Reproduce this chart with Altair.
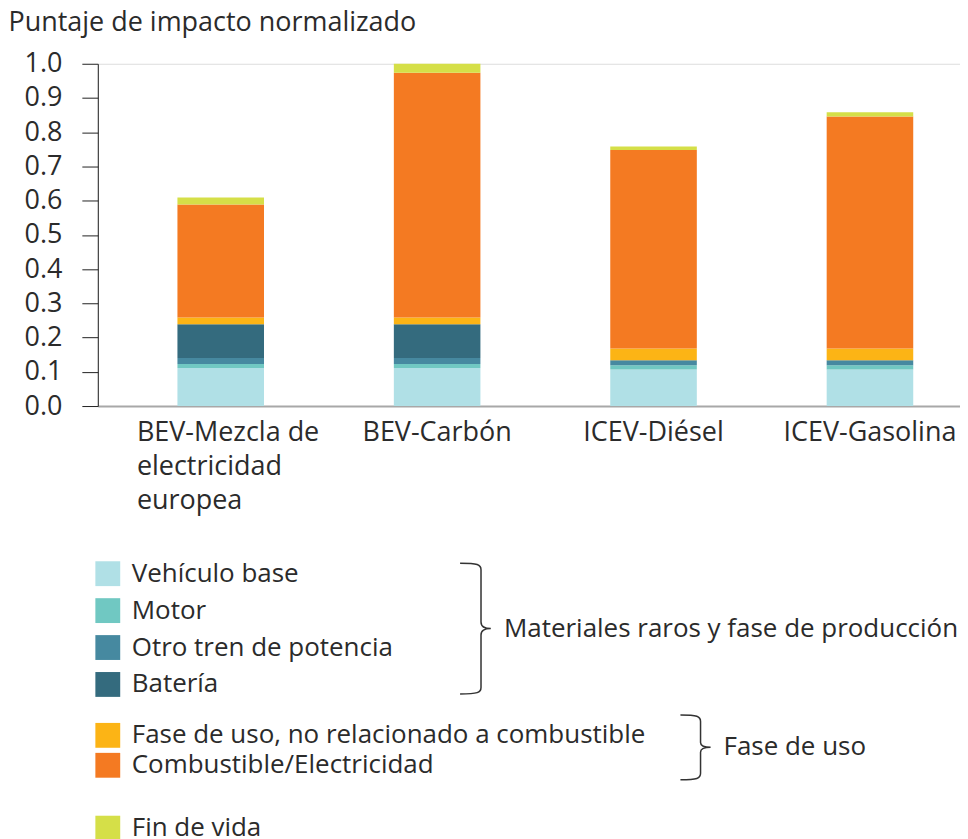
import altair as alt
import pandas as pd

# ---- data ----
vehiculos = ["BEV-Mezcla de electricidad europea", "BEV-Carbón", "ICEV-Diésel", "ICEV-Gasolina"]
componentes = ["Vehículo base", "Motor", "Otro tren de potencia", "Batería",
               "Fase de uso, no relacionado a combustible", "Combustible/Electricidad",
               "Fin de vida"]
vehiculo_base = [0.111, 0.111, 0.107, 0.107]
motor = [0.012, 0.012, 0.012, 0.012]
otro_tren = [0.017, 0.017, 0.015, 0.015]
bateria = [0.099, 0.099, 0.0, 0.0]
uso_no_comb = [0.020, 0.020, 0.034, 0.034]
combustible = [0.330, 0.715, 0.580, 0.678]
fin_de_vida = [0.020, 0.026, 0.010, 0.012]
colores = ["#b0e0e6", "#70c8c2", "#4689a0", "#346b7e", "#fcb415", "#f47a22", "#d5df48"]
grupos = ["Materiales raros y fase de producción", "Fase de uso"]
y_ticks = [0.0, 0.1, 0.2, 0.3, 0.4, 0.5, 0.6, 0.7, 0.8, 0.9, 1.0]
titulo_y = "Puntaje de impacto normalizado"

series = [vehiculo_base, motor, otro_tren, bateria, uso_no_comb, combustible, fin_de_vida]
rows = []
for ci, (comp, vals) in enumerate(zip(componentes, series)):
    for v, val in zip(vehiculos, vals):
        rows.append({"vehiculo": v, "componente": comp, "orden": ci, "valor": val})
df = pd.DataFrame(rows)

FONT = "Open Sans"
TXT = "#2b2b2b"

first = vehiculos[0]
x_enc = alt.X(
    "vehiculo:N", sort=vehiculos, title=None,
    scale=alt.Scale(paddingInner=0.6, paddingOuter=0.292, align=0.63),
    axis=alt.Axis(
        labelAngle=0, ticks=False, domainColor="#a8a8a8", domainWidth=2,
        labelFontSize=27, labelFont=FONT, labelColor=TXT, labelPadding=14,
        labelLineHeight=34, labelLimit=400,
        labelExpr="datum.value == '" + first + "' ? ['BEV-Mezcla de', 'electricidad', 'europea'] : datum.label",
        labelAlign={"condition": {"test": "datum.value == '" + first + "'", "value": "left"}, "value": "center"},
        labelOffset={"condition": {"test": "datum.value == '" + first + "'", "value": -84}, "value": 0},
    ),
)
y_enc = alt.Y(
    "y0:Q", scale=alt.Scale(domain=[0, 1], nice=False),
    axis=alt.Axis(
        values=y_ticks, format=".1f", grid=False, domainColor="#222", tickColor="#222",
        tickSize=16, labelFontSize=27, labelFont=FONT, labelColor=TXT, labelPadding=20,
        title=titulo_y, titleAngle=0, titleAlign="left", titleBaseline="alphabetic",
        titleX=-90, titleY=-33, titleFontSize=27, titleFontWeight="normal",
        titleFont=FONT, titleColor=TXT,
    ),
)

base = alt.Chart(df).transform_stack(
    stack="valor", groupby=["vehiculo"], sort=[alt.SortField("orden")], as_=["y0", "y1"]
)


def capa(dom, rng, ly, row_pad):
    return base.transform_filter(
        alt.FieldOneOfPredicate(field="componente", oneOf=dom)
    ).mark_bar().encode(
        x=x_enc, y=y_enc, y2="y1:Q",
        color=alt.Color(
            "componente:N",
            scale=alt.Scale(domain=dom, range=rng),
            legend=alt.Legend(
                title=None, orient="none", legendX=-3, legendY=ly, padding=0,
                symbolType="square", symbolSize=620, symbolStrokeWidth=0,
                labelFontSize=26, labelFont=FONT, labelColor=TXT, labelOffset=11,
                labelLimit=900, rowPadding=row_pad,
            ),
        ),
    )


l1 = capa(componentes[0:4], colores[0:4], 498, 11)
l2 = capa(componentes[4:6], colores[4:6], 660, 4)
l3 = capa(componentes[6:7], colores[6:7], 753, 4)

one = pd.DataFrame({"k": [0]})
brace1_path = ("M -0.32 -1 C -0.05 -1 0 -0.98 0 -0.9 L 0 -0.1 C 0 -0.03 0.05 0 0.15 0 "
               "C 0.05 0 0 0.03 0 0.1 L 0 0.9 C 0 0.98 -0.05 1 -0.32 1")
brace2_path = ("M -0.62 -1 C -0.1 -1 0 -0.96 0 -0.8 L 0 -0.15 C 0 -0.05 0.1 0 0.31 0 "
               "C 0.1 0 0 0.05 0 0.15 L 0 0.8 C 0 0.96 -0.1 1 -0.62 1")

b1 = alt.Chart(one).mark_point(
    shape=brace1_path, filled=False, size=131 ** 2, stroke="#333", strokeWidth=1.5, opacity=1
).encode(x=alt.value(384), y=alt.value(566))
b2 = alt.Chart(one).mark_point(
    shape=brace2_path, filled=False, size=65 ** 2, stroke="#333", strokeWidth=1.5, opacity=1
).encode(x=alt.value(604), y=alt.value(685))

t1 = alt.Chart(one).mark_text(
    text=grupos[0], align="left", baseline="middle", fontSize=26, font=FONT, color=TXT
).encode(x=alt.value(407), y=alt.value(566))
t2 = alt.Chart(one).mark_text(
    text=grupos[1], align="left", baseline="middle", fontSize=26, font=FONT, color=TXT
).encode(x=alt.value(627), y=alt.value(685))

chart = alt.layer(l1, l2, l3, b1, b2, t1, t2).resolve_scale(color="independent").properties(
    width=864, height=343, padding=0
).configure_view(stroke=None).configure(font=FONT)

chart.save("out.html", embed_options={"renderer": "svg", "actions": False})
